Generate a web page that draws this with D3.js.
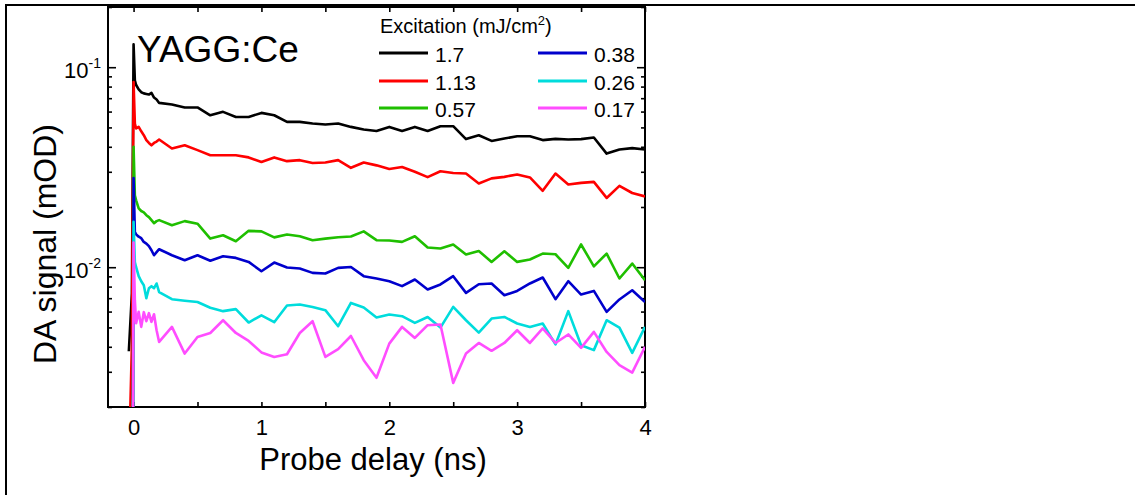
<!DOCTYPE html>
<html>
<head>
<meta charset="utf-8">
<script src="https://cdn.jsdelivr.net/npm/d3@7"></script>
<style>
  body { margin: 0; background: #fff; }
  #chart { width: 1135px; height: 495px; }
  svg text { font-family: Arial, "Liberation Sans", sans-serif; fill: #000; }
</style>
</head>
<body>
<div id="chart"></div>
<script>
// probe delay (ns) - dense sampling around time zero, then 0.1 ns steps
const delays = [-0.037, -0.013, -0.005, 0, 0.01, 0.02, 0.04, 0.06, 0.08, 0.1, 0.12, 0.14, 0.16, 0.18,
  0.2, 0.3, 0.4, 0.5, 0.6, 0.7, 0.8, 0.9, 1.0, 1.1, 1.2, 1.3, 1.4, 1.5, 1.6, 1.7, 1.8, 1.9,
  2.0, 2.1, 2.2, 2.3, 2.4, 2.5, 2.6, 2.7, 2.8, 2.9, 3.0, 3.1, 3.2, 3.3, 3.4, 3.5, 3.6, 3.7, 3.8, 3.9, 4.0];

// DA signal (mOD), one array per excitation fluence; null = no sample at that delay
const signal17 = [0.0038, 0.0074, null, 0.130, 0.086, 0.0815, 0.0775, 0.075, 0.074, 0.0735, 0.073, 0.0744, 0.0705, 0.069,
  0.0663, 0.0651, 0.0629, 0.0629, 0.0575, 0.0598, 0.0564, 0.0564, 0.0591, 0.0575, 0.0533, 0.0533, 0.0523, 0.0517, 0.0523, 0.0503, 0.0488, 0.048,
  0.0503, 0.048, 0.0503, 0.048, 0.0507, 0.0507, 0.0437, 0.0457, 0.0428, 0.044, 0.0452, 0.0452, 0.0432, 0.0438, 0.0435, 0.0437, 0.0445, 0.037, 0.0388, 0.0394, 0.0388];
const signal113 = [0.001, 0.0041, null, 0.0844, 0.0523, 0.0494, 0.0503, 0.0478, 0.0457, 0.0432, 0.0418, 0.0407, 0.0418, 0.0425,
  0.0435, 0.0392, 0.0407, 0.0385, 0.0363, 0.0363, 0.0363, 0.0354, 0.0336, 0.0354, 0.0339, 0.0343, 0.0332, 0.0334, 0.0343, 0.0314, 0.0334, 0.0323,
  0.031, 0.0317, 0.030, 0.0282, 0.0302, 0.0296, 0.0294, 0.0262, 0.0278, 0.0283, 0.0291, 0.0281, 0.0241, 0.0294, 0.0259, 0.0264, 0.0267, 0.0222, 0.0255, 0.0235, 0.0226];
const signal057 = [null, null, 0.001, 0.040, 0.0229, 0.0216, 0.0197, 0.0191, 0.0188, 0.0182, 0.0178, 0.0172, 0.0166, 0.017,
  0.0172, 0.0162, 0.017, 0.0165, 0.0139, 0.01445, 0.01349, 0.0152, 0.0151, 0.0141, 0.01457, 0.01429, 0.01365, 0.0139, 0.01413, 0.01424, 0.0151, 0.01365,
  0.0136, 0.01338, 0.01429, 0.01254, 0.0124, 0.01299, 0.01157, 0.01206, 0.01063, 0.01202, 0.01063, 0.01093, 0.0117, 0.01161, 0.00992, 0.01299, 0.0101, 0.0117, 0.00878, 0.01043, 0.00861];
const signal038 = [null, null, 0.001, 0.0279, 0.015, 0.0146, 0.0142, 0.01396, 0.01338, 0.01313, 0.01274, 0.01216, 0.01148, 0.01189,
  0.0123, 0.01148, 0.01084, 0.01148, 0.01078, 0.01135, 0.01113, 0.01063, 0.00955, 0.01055, 0.00997, 0.00985, 0.00937, 0.0093, 0.00992, 0.01003, 0.00902, 0.00878,
  0.00851, 0.00804, 0.00868, 0.00774, 0.0082, 0.00902, 0.00744, 0.00822, 0.00829, 0.00724, 0.00761, 0.00829, 0.00888, 0.00692, 0.00851, 0.0073, 0.00761, 0.00598, 0.0069, 0.00767, 0.0067];
const signal026 = [null, null, 0.001, 0.01685, 0.0106, 0.01, 0.00902, 0.00851, 0.00813, 0.007, 0.00785, 0.00804, 0.00785, 0.00829,
  0.0075, 0.00692, 0.0068, 0.0067, 0.00627, 0.00603, 0.00617, 0.00529, 0.00575, 0.00531, 0.00643, 0.00651, 0.00633, 0.0061, 0.00507, 0.00663, 0.00629, 0.0056,
  0.0058, 0.00569, 0.00527, 0.00564, 0.00499, 0.00633, 0.00543, 0.00471, 0.00554, 0.00564, 0.00523, 0.00503, 0.00523, 0.00411, 0.00603, 0.00407, 0.00385, 0.00543, 0.00499, 0.00373, 0.00503];
const signal017 = [null, null, 0.001, 0.0133, 0.00684, 0.00525, 0.00598, 0.00503, 0.00596, 0.00537, 0.00589, 0.00533, 0.00582, 0.00484,
  0.00423, 0.00503, 0.0037, 0.00448, 0.00469, 0.00543, 0.00469, 0.00428, 0.00375, 0.00356, 0.00367, 0.00469, 0.00537, 0.00356, 0.00389, 0.00453, 0.00343, 0.0028,
  0.00415, 0.00503, 0.00443, 0.00513, 0.00517, 0.00264, 0.0037, 0.00418, 0.00382, 0.00418, 0.00484, 0.00418, 0.00494, 0.00418, 0.00461, 0.00395, 0.00475, 0.00377, 0.00324, 0.00297, 0.004];

const fluenceLabels = ["1.7", "1.13", "0.57", "0.38", "0.26", "0.17"];
const xTickValues = [0, 0.5, 1, 1.5, 2, 2.5, 3, 3.5, 4];
const yMajorTicks = [0.01, 0.1];
const yTickExponents = ["-2", "-1"];

class DecayVis {
  constructor(parentElement) {
    this.parentElement = parentElement;
    this.initVis();
  }

  initVis() {
    let vis = this;
    vis.width = 1135;
    vis.height = 495;
    vis.plot = { left: 108, right: 645, top: 7, bottom: 407 };

    vis.svg = d3.select("#" + vis.parentElement)
      .append("svg")
      .attr("width", vis.width)
      .attr("height", vis.height);

    // outer figure frame (only top and left edge visible)
    vis.svg.append("rect")
      .attr("x", 6).attr("y", 5)
      .attr("width", 1200).attr("height", 600)
      .attr("fill", "none").attr("stroke", "#000").attr("stroke-width", 2);

    vis.x = d3.scaleLinear().domain([-0.2, 4]).range([vis.plot.left, vis.plot.right]);
    vis.y = d3.scaleLog().domain([0.002, 0.2]).range([vis.plot.bottom, vis.plot.top]);

    vis.colors = ["#000000", "#ff0000", "#1fbf00", "#0000cc", "#00dcdc", "#ff4dff"];
    vis.series = [signal17, signal113, signal057, signal038, signal026, signal017].map((values, i) => ({
      label: fluenceLabels[i],
      color: vis.colors[i],
      points: delays.map((t, j) => [t, values[j]]).filter(d => d[1] != null)
    }));

    vis.drawAxes();
    vis.updateVis();
  }

  drawAxes() {
    let vis = this;
    const p = vis.plot;
    const yTicks = vis.y.ticks();

    // bottom axis, ticks pointing inward
    let bottom = vis.svg.append("g")
      .attr("transform", "translate(0," + p.bottom + ")")
      .call(d3.axisBottom(vis.x).tickValues(xTickValues).tickSizeInner(-5).tickSizeOuter(0)
        .tickPadding(12).tickFormat(d => Number.isInteger(d) ? d : ""));
    bottom.selectAll("text").style("font-size", "22px").attr("font-family", null);

    vis.svg.append("g")
      .attr("transform", "translate(0," + p.top + ")")
      .call(d3.axisTop(vis.x).tickValues(xTickValues).tickSizeInner(-5).tickSizeOuter(0).tickFormat(""));

    let left = vis.svg.append("g")
      .attr("transform", "translate(" + p.left + ",0)")
      .call(d3.axisLeft(vis.y).tickValues(yTicks).tickSizeInner(-4).tickSizeOuter(0).tickFormat(""));
    left.selectAll(".tick line")
      .attr("x2", d => yMajorTicks.includes(+d.toPrecision(3)) ? 8 : 4);

    let right = vis.svg.append("g")
      .attr("transform", "translate(" + p.right + ",0)")
      .call(d3.axisRight(vis.y).tickValues(yTicks).tickSizeInner(-4).tickSizeOuter(0).tickFormat(""));
    right.selectAll(".tick line")
      .attr("x2", d => yMajorTicks.includes(+d.toPrecision(3)) ? -8 : -4);

    vis.svg.selectAll(".domain").remove();
    vis.svg.selectAll(".tick line").attr("stroke", "#000").attr("stroke-width", 1.6);

    // y tick labels with exponents
    yMajorTicks.forEach((v, i) => {
      let t = vis.svg.append("text")
        .attr("x", p.left - 7)
        .attr("y", vis.y(v) + 11)
        .attr("text-anchor", "end")
        .style("font-size", "22px");
      t.append("tspan").text("10");
      t.append("tspan").attr("dy", -10).style("font-size", "14px").text(yTickExponents[i]);
    });

    // plot frame
    vis.svg.append("rect")
      .attr("x", p.left).attr("y", p.top)
      .attr("width", p.right - p.left).attr("height", p.bottom - p.top)
      .attr("fill", "none").attr("stroke", "#000").attr("stroke-width", 2);

    // axis titles
    vis.svg.append("text")
      .attr("x", 373).attr("y", 470)
      .attr("text-anchor", "middle")
      .style("font-size", "31px")
      .text("Probe delay (ns)");

    vis.svg.append("text")
      .attr("transform", "translate(56,244) rotate(-90)")
      .attr("text-anchor", "middle")
      .style("font-size", "32px")
      .text("DA signal (mOD)");

    vis.svg.append("text")
      .attr("x", 137).attr("y", 62)
      .style("font-size", "37px")
      .text("YAGG:Ce");
  }

  updateVis() {
    let vis = this;
    const p = vis.plot;

    vis.svg.append("clipPath").attr("id", "plotClip")
      .append("rect")
      .attr("x", p.left).attr("y", p.top)
      .attr("width", p.right - p.left).attr("height", p.bottom - p.top);

    let line = d3.line()
      .x(d => vis.x(d[0]))
      .y(d => vis.y(d[1]));

    vis.svg.append("g")
      .attr("clip-path", "url(#plotClip)")
      .selectAll("path")
      .data(vis.series)
      .join("path")
      .attr("d", d => line(d.points))
      .attr("fill", "none")
      .attr("stroke", d => d.color)
      .attr("stroke-width", 2.6)
      .attr("stroke-linejoin", "round");

    // legend
    let legend = vis.svg.append("g");
    let title = legend.append("text")
      .attr("x", 380).attr("y", 33)
      .style("font-size", "20px");
    title.append("tspan").text("Excitation (mJ/cm");
    title.append("tspan").attr("dy", -8).style("font-size", "13px").text("2");
    title.append("tspan").attr("dy", 8).text(")");

    let items = legend.selectAll("g.item")
      .data(vis.series)
      .join("g")
      .attr("class", "item")
      .attr("transform", (d, i) => "translate(" + (i < 3 ? 379 : 538) + "," + [53, 81, 108][i % 3] + ")");

    items.append("line")
      .attr("x1", 0).attr("x2", 49)
      .attr("stroke", d => d.color)
      .attr("stroke-width", 3);

    items.append("text")
      .attr("x", 56).attr("y", 9)
      .style("font-size", "21px")
      .text(d => d.label);
  }
}

new DecayVis("chart");
</script>
</body>
</html>
